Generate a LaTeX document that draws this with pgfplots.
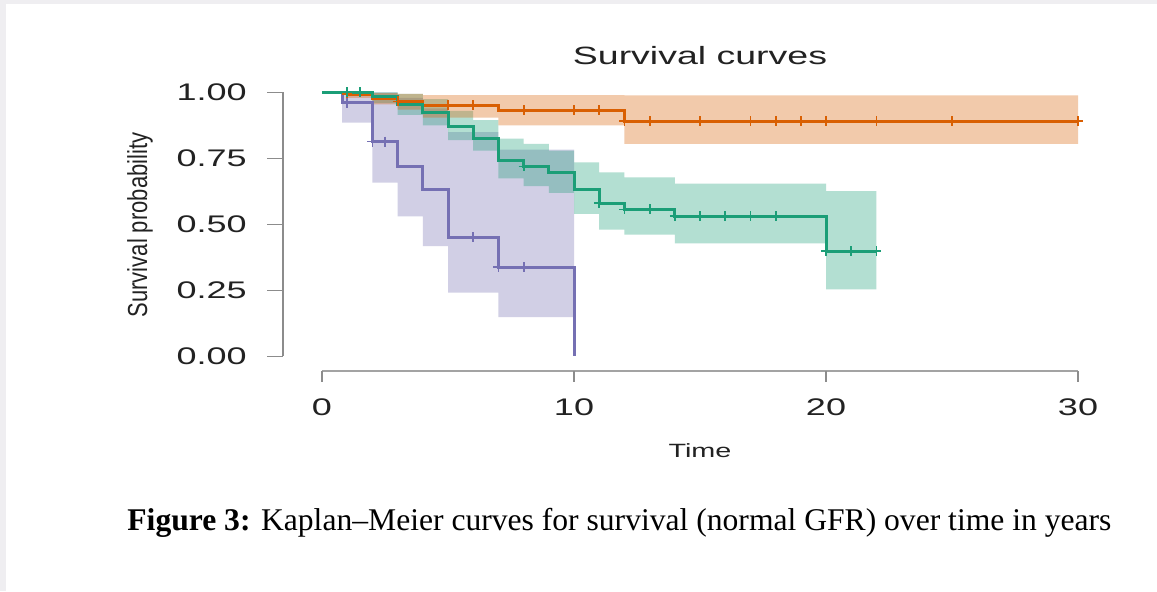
\documentclass[border=0pt]{standalone}
\usepackage{graphicx}
\usepackage{fontspec}
\setmainfont{Liberation Sans}[FakeStretch=1.5]
\newfontfamily\plainsans{Liberation Sans}
\newfontfamily\capfont{Liberation Serif}
\usepackage{pgfplots}
\pgfplotsset{compat=1.18}
\usepgfplotslibrary{fillbetween}
\tikzset{fill between/on layer=main}
\definecolor{cOr}{HTML}{D95F02}
\definecolor{cGr}{HTML}{1B9E77}
\definecolor{cPu}{HTML}{7570B3}
\definecolor{bggrey}{HTML}{EFEEF1}
\definecolor{axgrey}{HTML}{8C8C8C}
\definecolor{txt}{HTML}{222222}
\begin{document}
\begin{tikzpicture}
\fill[bggrey] (-141.5pt,185.5pt) rectangle (437pt,-110pt);
\fill[white] (-138.5pt,183.5pt) rectangle (437pt,-110pt);
\begin{axis}[
  at={(0pt,0pt)}, anchor=south west,
  x=12.6pt, y=132pt,
  xmin=-1.548, xmax=31, ymin=-0.055, ymax=1.05,
  clip=false,
  axis x line*=bottom, axis y line*=left,
  axis line style={draw=none},
  tick style={draw=none},
  xtick={0,10,20,30}, xticklabels={0,10,20,30},
  ytick={0,0.25,0.5,0.75,1}, yticklabels={0.00,0.25,0.50,0.75,1.00},
  xticklabel style={anchor=center, inner sep=0pt, yshift=-18pt, font=\fontsize{12}{14}\selectfont, text=txt},
  yticklabel style={anchor=east, inner sep=0pt, xshift=-18pt, font=\fontsize{12}{14}\selectfont, text=txt},
  mark size=2.5pt,
]
% axis lines (R style)
\draw[axgrey, line width=0.9pt] (axis cs:-1.548,0) -- (axis cs:-1.548,1);
\pgfplotsinvokeforeach{0,0.25,0.5,0.75,1}{\draw[axgrey, line width=0.9pt] (axis cs:-1.548,#1) -- ++(-8pt,0pt);}
\draw[axgrey!80, line width=0.9pt] (axis cs:0,-0.055) -- (axis cs:30,-0.055);
\pgfplotsinvokeforeach{0,10,20,30}{\draw[axgrey, line width=0.9pt] (axis cs:#1,-0.055) -- ++(0pt,-5.5pt);}

% confidence bands
\addplot[draw=none, const plot, name path=pu, forget plot] coordinates {(0,1)(0.8,1)(2,1)(3,0.98)(4,0.94)(5,0.85)(7,0.784)(10,0.784)};
\addplot[draw=none, const plot, name path=pl, forget plot] coordinates {(0,1)(0.8,0.886)(2,0.659)(3,0.531)(4,0.418)(5,0.242)(7,0.149)(10,0.149)};
\addplot[cPu, fill opacity=0.33, draw=none, forget plot] fill between[of=pu and pl];

\addplot[draw=none, const plot, name path=gu, forget plot] coordinates {(0,1)(2,1)(3,0.995)(4,0.975)(5,0.93)(6,0.895)(7,0.825)(8,0.805)(9,0.78)(10,0.735)(11,0.697)(12,0.678)(14,0.655)(20,0.626)(22,0.626)};
\addplot[draw=none, const plot, name path=gl, forget plot] coordinates {(0,1)(2,0.96)(3,0.915)(4,0.875)(5,0.82)(6,0.78)(7,0.675)(8,0.645)(9,0.62)(10,0.54)(11,0.481)(12,0.462)(14,0.428)(20,0.254)(22,0.254)};
\addplot[cGr, fill opacity=0.33, draw=none, forget plot] fill between[of=gu and gl];

\addplot[draw=none, const plot, name path=ou, forget plot] coordinates {(0,1)(1,1)(2,0.998)(3,0.995)(4,0.99)(7,0.99)(12,0.989)(30,0.989)};
\addplot[draw=none, const plot, name path=ol, forget plot] coordinates {(0,1)(1,0.98)(2,0.955)(3,0.935)(4,0.905)(7,0.875)(12,0.805)(30,0.805)};
\addplot[cOr, fill opacity=0.33, draw=none, forget plot] fill between[of=ou and ol];

% survival curves
\addplot[cOr, line width=1.5pt, const plot, mark=none] coordinates {(0,1)(1,0.993)(2,0.979)(3,0.966)(4,0.951)(7,0.932)(12,0.891)(30,0.891)};
\addplot[cPu, line width=1.5pt, const plot, mark=none] coordinates {(0,1)(0.8,0.962)(2,0.814)(3,0.72)(4,0.633)(5,0.452)(7,0.338)(10,0)};
\addplot[cGr, line width=1.5pt, const plot, mark=none] coordinates {(0,1)(2,0.985)(3,0.955)(4,0.924)(5,0.873)(6,0.826)(7,0.742)(8,0.72)(9,0.697)(10,0.633)(11,0.58)(12,0.557)(14,0.531)(20,0.399)(22,0.399)};

% censoring marks
\addplot[cOr, only marks, mark=+, mark options={line width=0.9pt}] coordinates {(1,0.993)(3,0.966)(5,0.951)(6,0.951)(8,0.932)(10,0.932)(11,0.932)(12,0.891)(13,0.891)(15,0.891)(17,0.891)(18,0.891)(19,0.891)(20,0.891)(22,0.891)(25,0.891)(30,0.891)};
\addplot[cPu, only marks, mark=+, mark options={line width=0.9pt}] coordinates {(1,0.962)(2,0.814)(2.5,0.814)(6,0.452)(7,0.338)(8,0.338)};
\addplot[cGr, only marks, mark=+, mark options={line width=0.9pt}] coordinates {(1,1)(1.5,1)(8,0.72)(11,0.58)(12,0.557)(13,0.557)(14,0.531)(15,0.531)(16,0.531)(17,0.531)(18,0.531)(20,0.399)(21,0.399)(22,0.399)};

% texts
\node[font=\fontsize{12.5}{15}\selectfont, text=txt] at (axis cs:15,1.138) {Survival curves};
\node[font=\fontsize{9.6}{12}\selectfont, text=txt] at (axis cs:15,-0.358) {Time};
\node[rotate=90, text=txt, inner sep=0pt] at (axis cs:-7.22,0.498) {\plainsans\fontsize{11}{13}\selectfont\scalebox{1}[1.25]{Survival probability}};
\node[anchor=west, inner sep=0pt, text=black] at (axis cs:-7.738,-0.63) {\capfont\fontsize{15.8}{19}\selectfont\textbf{Figure 3:} Kaplan–Meier curves for survival (normal GFR) over time in years};
\end{axis}
\end{tikzpicture}
\end{document}
